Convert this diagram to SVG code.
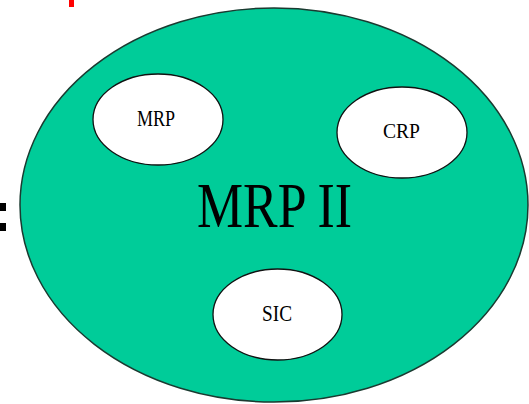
<svg xmlns="http://www.w3.org/2000/svg" width="529" height="404" viewBox="0 0 529 404">
<style>
.big{fill:#00cc99;stroke:#1a3a30;stroke-width:1.5}
.sub{fill:#ffffff;stroke:#111;stroke-width:1.3}
.t{font-family:"Liberation Serif","Times New Roman",serif;fill:#000}
</style>
<rect width="529" height="404" fill="#ffffff"/>
<rect x="69" y="0" width="5" height="7" fill="#ff0000"/>
<rect x="0" y="203" width="6" height="8" fill="#000"/>
<rect x="0" y="223" width="6" height="8" fill="#000"/>
<g id="mrp2">
<ellipse class="big" cx="274" cy="205" rx="254" ry="197"/>
<text class="t" x="197" y="227" font-size="64" textLength="155" lengthAdjust="spacingAndGlyphs">MRP II</text>
</g>
<g id="mrp">
<ellipse class="sub" cx="158" cy="119.5" rx="65" ry="45.5"/>
<text class="t" x="137" y="126" font-size="23" textLength="38" lengthAdjust="spacingAndGlyphs">MRP</text>
</g>
<g id="crp">
<ellipse class="sub" cx="402" cy="132.5" rx="65" ry="45.5"/>
<text class="t" x="383" y="138" font-size="22" textLength="37" lengthAdjust="spacingAndGlyphs">CRP</text>
</g>
<g id="sic">
<ellipse class="sub" cx="277.5" cy="314.5" rx="64.5" ry="45.5"/>
<text class="t" x="262" y="321" font-size="23" textLength="30" lengthAdjust="spacingAndGlyphs">SIC</text>
</g>
<g id="connectors"/>
</svg>
